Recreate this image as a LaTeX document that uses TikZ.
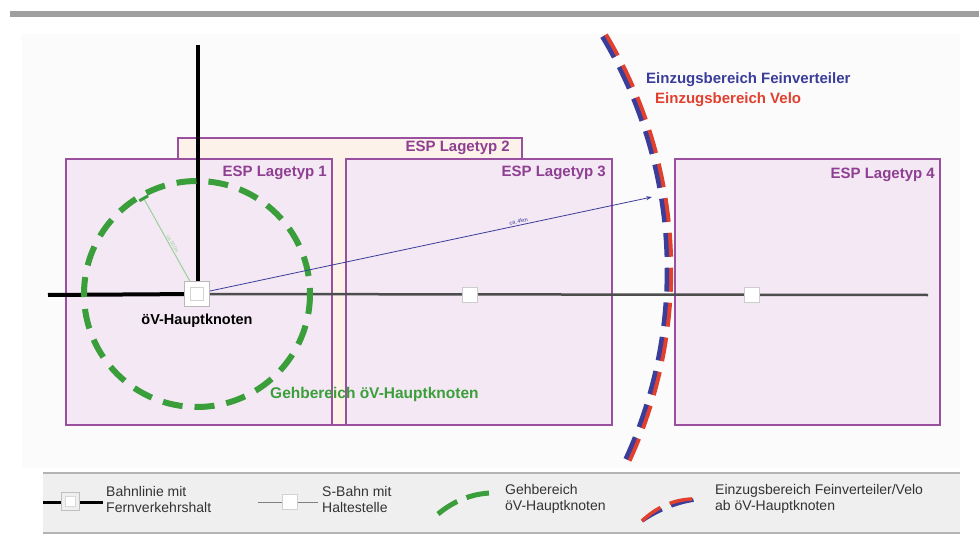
\documentclass[tikz,border=0pt]{standalone}
\usepackage{fontspec}
\setmainfont{Liberation Sans}
\usetikzlibrary{arrows.meta}
\definecolor{purpleline}{HTML}{9B4F9F}
\definecolor{purpletext}{HTML}{8E3F92}
\definecolor{lavender}{HTML}{F4E8F4}
\definecolor{peach}{HTML}{FDF2EA}
\definecolor{greenC}{HTML}{3A9F3A}
\definecolor{lightgreen}{HTML}{9AD09A}
\definecolor{blueC}{HTML}{3B3D9A}
\definecolor{redC}{HTML}{E2402E}
\definecolor{legfill}{HTML}{EFEFEF}
\definecolor{legline}{HTML}{B4B4B4}
\definecolor{railgray}{HTML}{4D4D4D}
\definecolor{txtgray}{HTML}{333333}
\definecolor{faint}{HTML}{FBFBFB}
\tikzset{
  espbox/.style={draw=purpleline, line width=1.6pt, fill=lavender},
  esplabel/.style={font=\fontsize{15}{17}\selectfont\bfseries, text=purpletext, anchor=north east, inner sep=0pt},
  bigstop/.style={draw=gray!55, line width=1.5pt, fill=white, minimum size=25pt, inner sep=0pt},
  innerstop/.style={draw=gray!35, line width=1pt, fill=white, minimum size=13pt, inner sep=0pt},
  smallstop/.style={draw=gray!40, line width=1pt, fill=white, minimum size=15pt, inner sep=0pt},
  legtext/.style={font=\fontsize{14}{16}\selectfont, text=txtgray, align=left, anchor=west, inner sep=0pt},
  walkdash/.style={draw=greenC, line width=6pt, dash pattern=on 20pt off 12pt},
}
\begin{document}
\begin{tikzpicture}[x=1pt,y=-1pt]
\useasboundingbox (0,0) rectangle (979,556);
\fill[white] (0,0) rectangle (979,556);
% top bar
\fill[gray!75] (10,11) rectangle (979,17);
% faint background
\fill[faint] (22,34) rectangle (960,468);

% ESP boxes
\draw[espbox, fill=peach] (178,138) rectangle (522,425);
\draw[espbox] (66,159) rectangle (332,425);
\draw[espbox] (346,159) rectangle (612,425);
\draw[espbox] (675,159) rectangle (940,425);
\node[esplabel] (l2) at (510,141) {ESP Lagetyp 2};
\node[esplabel] (l1) at (327,166) {ESP Lagetyp 1};
\node[esplabel] (l3) at (606,166) {ESP Lagetyp 3};
\node[esplabel] (l4) at (935,168) {ESP Lagetyp 4};

% positions
\coordinate (c1) at (197,294);
\coordinate (railW) at (48,295);
\coordinate (railE) at (928,295);
\coordinate (railN) at (198,45);
\coordinate (far) at (652,197);
\coordinate (rad) at (143,197);

% rails
\draw[railgray, line width=2.5pt] (c1) -- (railE);
\draw[black, line width=4pt] (railW) -- (c1);
\draw[black, line width=3.5pt] (railN) -- (198,290);

% walking circle
\draw[walkdash] (c1) circle[radius=113];
% radius line
\draw[lightgreen, line width=1pt, -{Bar[width=10pt,line width=3pt,color=greenC]}] (c1) -- (rad)
  node[pos=0.5, sloped, above, font=\fontsize{5}{6}\selectfont, text=lightgreen, inner sep=1pt] {ca.\,500m};
% distance arrow
\draw[blueC, line width=0.8pt, -{Stealth[length=6pt,width=4pt]}] (210,291) -- (far)
  node[pos=0.7, sloped, above, font=\fontsize{5.5}{6}\selectfont, text=blueC, inner sep=1.5pt] {ca.\,4km};

% catchment arc (red / blue)
\draw[redC, line width=4.5pt, dash pattern=on 24pt off 11pt]
  plot[domain=-31:25, samples=80, smooth] ({214+457*cos(\x)},{270+457*sin(\x)});
\draw[blueC, line width=4.5pt, dash pattern=on 23.79pt off 10.9pt]
  plot[domain=-31:25, samples=80, smooth] ({214+453*cos(\x)},{270+453*sin(\x)});

% station nodes
\node[bigstop] (n1) at (c1) {};
\node[innerstop] (n1i) at (c1) {};
\node[smallstop] (n3) at (469.5,294.5) {};
\node[smallstop] (n4) at (752,294.5) {};

% texts
\node[font=\fontsize{14.5}{16}\selectfont\bfseries, text=black, inner sep=0pt] (hk) at (197,321) {öV-Hauptknoten};
\node[font=\fontsize{15.5}{17}\selectfont\bfseries, text=greenC, anchor=west, inner sep=0pt] (gb) at (270,394) {Gehbereich öV-Hauptknoten};
\node[font=\fontsize{15}{17}\selectfont\bfseries, text=blueC, anchor=west, inner sep=0pt] (ezf) at (646,80) {Einzugsbereich Feinverteiler};
\node[font=\fontsize{15}{17}\selectfont\bfseries, text=redC, anchor=west, inner sep=0pt] (ezv) at (655,100) {Einzugsbereich Velo};

% legend
\fill[legfill] (43,473) rectangle (960,533);
\draw[legline, line width=1.5pt] (43,473) -- (960,473);
\draw[legline, line width=1.5pt] (43,533) -- (960,533);
% item 1
\coordinate (a1) at (43,502);
\coordinate (b1) at (103,502);
\draw[black, line width=3pt] (a1) -- (b1);
\node[draw=gray!50, line width=1pt, fill=legfill, minimum size=18pt, inner sep=0pt] (s1) at (70,501) {};
\node[draw=gray!30, line width=0.8pt, fill=white, minimum size=10pt, inner sep=0pt] (s1i) at (70,501) {};
\node[legtext] (t1) at (106,499) {Bahnlinie mit\\Fernverkehrshalt};
% item 2
\coordinate (a2) at (258,502);
\coordinate (b2) at (318,502);
\draw[gray, line width=1pt] (a2) -- (b2);
\node[draw=gray!35, line width=0.8pt, fill=white, minimum size=15pt, inner sep=0pt] (s2) at (289.5,502) {};
\node[legtext] (t2) at (322,499) {S-Bahn mit\\Haltestelle};
% item 3
\coordinate (a3) at (438,514);
\coordinate (b3) at (498,493);
\draw[greenC, line width=5pt, dash pattern=on 23pt off 10pt] (a3) .. controls (455,500) and (475,492) .. (b3);
\node[legtext] (t3) at (505,499) {Gehbereich\\öV-Hauptknoten};
% item 4
\coordinate (a4) at (642,521);
\coordinate (b4) at (702,499);
\draw[blueC, line width=3.5pt, dash pattern=on 23pt off 10pt, shift={(1,2)}] (a4) .. controls (659,507) and (679,499) .. (b4);
\draw[redC, line width=3.5pt, dash pattern=on 23pt off 10pt, shift={(-1,-1.5)}] (a4) .. controls (659,507) and (679,499) .. (b4);
\node[legtext] (t4) at (715,499) {Einzugsbereich Feinverteiler/Velo\\ab öV-Hauptknoten};
\end{tikzpicture}
\end{document}
